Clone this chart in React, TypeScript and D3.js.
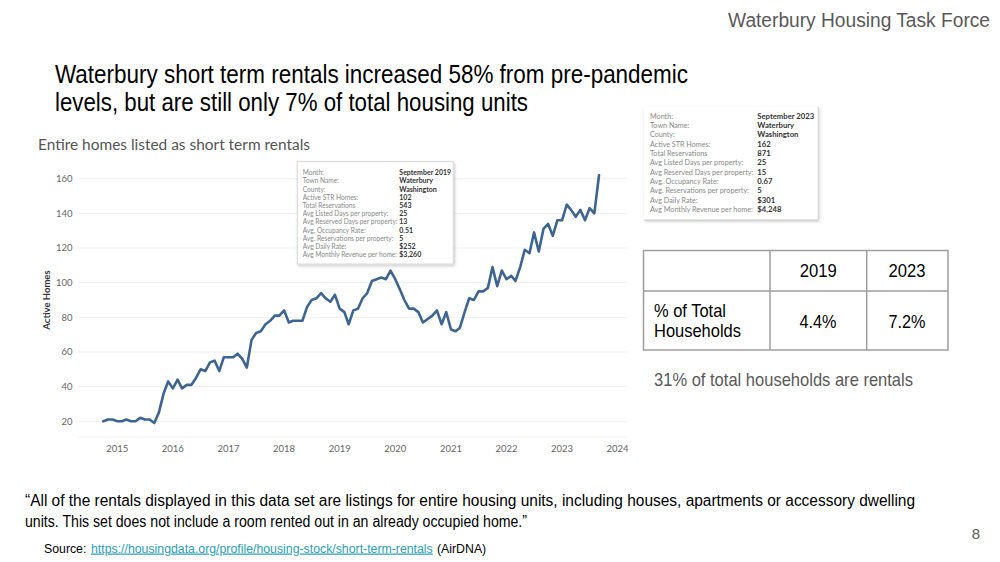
import React from "react";
import * as d3 from "d3";

// ---- data ----
const firstMonth = "2014-10-01";
const activeHomes = [
  20, 21, 21,
  20, 20, 21, 20, 20, 22, 21, 21, 19, 25, 36, 43,
  39, 44, 39, 41, 41, 45, 50, 49, 54, 55, 49, 57,
  57, 57, 59, 56, 51, 67, 71, 72, 76, 78, 81, 81,
  84, 77, 78, 78, 78, 86, 90, 91, 94, 91, 89, 93,
  85, 83, 76, 84, 85, 91, 94, 101, 102, 103, 102, 107,
  102, 96, 90, 85, 85, 83, 77, 79, 81, 84, 76, 83,
  73, 72, 74, 83, 91, 90, 95, 95, 97, 109, 98, 107,
  102, 104, 101, 109, 119, 117, 129, 118, 131, 134, 127, 136,
  136, 145, 142, 138, 142, 136, 143, 140, 162,
];
const yTicks = [20, 40, 60, 80, 100, 120, 140, 160];
const xYears = [2015, 2016, 2017, 2018, 2019, 2020, 2021, 2022, 2023, 2024];

const tooltipLabels = [
  "Month:",
  "Town Name:",
  "County:",
  "Active STR Homes:",
  "Total Reservations",
  "Avg Listed Days per property:",
  "Avg Reserved Days per property:",
  "Avg. Occupancy Rate:",
  "Avg. Reservations per property:",
  "Avg Daily Rate:",
  "Avg Monthly Revenue per home:",
];
const tooltip2019 = ["September 2019", "Waterbury", "Washington", "102", "543", "25", "13", "0.51", "5", "$252", "$3,260"];
const tooltip2023 = ["September 2023", "Waterbury", "Washington", "162", "871", "25", "15", "0.67", "5", "$301", "$4,248"];

const tableYears = ["2019", "2023"];
const tableShares = ["4.4%", "7.2%"];
const tableRowLabel = ["% of Total", "Households"];

const titleLines = [
  "Waterbury short term rentals increased 58% from pre-pandemic",
  "levels, but are still only 7% of total housing units",
];
const quoteLines = [
  "\u201CAll of the rentals displayed in this data set are listings for entire housing units, including houses, apartments or accessory dwelling",
  "units. This set does not include a room rented out in an already occupied home.\u201D",
];
const sourceParts = ["Source:", "https://housingdata.org/profile/housing-stock/short-term-rentals", "(AirDNA)"];

const SLIDE_FONT = "'Liberation Sans', Arial, sans-serif";
const TAB_FONT = "Lato, 'Noto Sans', sans-serif";

export default function App() {
  const start = new Date(firstMonth + "T00:00:00");
  const points = activeHomes.map((v, i) => ({ date: d3.timeMonth.offset(start, i), v }));

  const x = d3
    .scaleTime()
    .domain([new Date(2015, 0, 1), new Date(2024, 0, 1)])
    .range([117.3, 617.6]);
  const y = d3.scaleLinear().domain([20, 160]).range([421.3, 178.7]);

  const line = d3
    .line<{ date: Date; v: number }>()
    .x((d) => x(d.date))
    .y((d) => y(d.v))
    .curve(d3.curveLinear);

  const tipRow1 = (i: number) => 172.7 + i * 8.2;
  const tipRow2 = (i: number) => 116 + i * 9.33;

  return (
    <svg
      width={1000}
      height={562}
      viewBox="0 0 1000 562"
      style={{ position: "absolute", left: 0, top: 0, background: "#fff" }}
    >
      <defs>
        <filter id="shadow" x="-10%" y="-10%" width="130%" height="130%">
          <feDropShadow dx="1" dy="1.5" stdDeviation="1.5" floodColor="#000" floodOpacity="0.22" />
        </filter>
      </defs>
      <rect x={0} y={0} width={1000} height={562} fill="#fff" />

      {/* header */}
      <text x={990} y={26.5} textAnchor="end" fontFamily={SLIDE_FONT} fontSize={20} fill="#595959" textLength={262} lengthAdjust="spacingAndGlyphs">
        Waterbury Housing Task Force
      </text>

      {/* title */}
      <text x={55} y={83} fontFamily={SLIDE_FONT} fontSize={25} fill="#000" textLength={633} lengthAdjust="spacingAndGlyphs">
        {titleLines[0]}
      </text>
      <text x={55} y={111} fontFamily={SLIDE_FONT} fontSize={25} fill="#000" textLength={473} lengthAdjust="spacingAndGlyphs">
        {titleLines[1]}
      </text>

      {/* chart subtitle */}
      <text x={38} y={150} fontFamily={TAB_FONT} fontSize={14.5} fill="#555" textLength={272} lengthAdjust="spacingAndGlyphs">
        Entire homes listed as short term rentals
      </text>

      {/* gridlines */}
      {yTicks.map((t) => (
        <line key={"g" + t} x1={78} x2={627} y1={y(t)} y2={y(t)} stroke="#efefef" strokeWidth={1} />
      ))}
      <line x1={78} x2={627} y1={437} y2={437} stroke="#f3f3f3" strokeWidth={1} />

      {/* y ticks */}
      {yTicks.map((t) => (
        <text key={"yt" + t} x={72.5} y={y(t) + 3.3} textAnchor="end" fontFamily={TAB_FONT} fontSize={9.5} fill="#666">
          {t}
        </text>
      ))}
      <text
        transform={`translate(50,300) rotate(-90)`}
        textAnchor="middle"
        fontFamily={TAB_FONT}
        fontSize={9.5}
        fontWeight={700}
        fill="#333"
      >
        Active Homes
      </text>

      {/* x ticks */}
      {xYears.map((yr) => (
        <text key={"xt" + yr} x={x(new Date(yr, 0, 1))} y={451.5} textAnchor="middle" fontFamily={TAB_FONT} fontSize={9.5} fill="#666">
          {yr}
        </text>
      ))}

      {/* line */}
      <path d={line(points) || ""} fill="none" stroke="#3e6592" strokeWidth={2.6} strokeLinejoin="round" strokeLinecap="round" />

      {/* tooltip 2019 */}
      <g>
        <rect x={297.3} y={161.7} width={156} height={102.3} fill="#fff" stroke="#d9d9d9" strokeWidth={1} filter="url(#shadow)" />
        {tooltipLabels.map((l, i) => (
          <text key={"l1" + i} x={302.7} y={tipRow1(i) + 2.4} fontFamily={TAB_FONT} fontSize={6.6} fill="#888">
            {l}
          </text>
        ))}
        {tooltip2019.map((v, i) => (
          <text key={"v1" + i} x={399.3} y={tipRow1(i) + 2.4} fontFamily={TAB_FONT} fontSize={7} fontWeight={700} fill="#333">
            {v}
          </text>
        ))}
      </g>

      {/* tooltip 2023 */}
      <g>
        <rect x={644} y={107} width={174.3} height={113} fill="#fff" filter="url(#shadow)" />
        <line x1={818.3} x2={818.3} y1={107} y2={220} stroke="#d0d0d0" strokeWidth={1} />
        <line x1={644} x2={818.3} y1={220} y2={220} stroke="#d0d0d0" strokeWidth={1} />
        {tooltipLabels.map((l, i) => (
          <text key={"l2" + i} x={650} y={tipRow2(i) + 2.6} fontFamily={TAB_FONT} fontSize={7.2} fill="#888">
            {l}
          </text>
        ))}
        {tooltip2023.map((v, i) => (
          <text key={"v2" + i} x={757.3} y={tipRow2(i) + 2.6} fontFamily={TAB_FONT} fontSize={7.7} fontWeight={700} fill="#333">
            {v}
          </text>
        ))}
      </g>

      {/* table */}
      <g fontFamily={SLIDE_FONT} fill="#000">
        <rect x={643.5} y={250.5} width={304.5} height={99.5} fill="#fff" stroke="#9e9e9e" strokeWidth={1.5} />
        <line x1={643.5} x2={948} y1={291} y2={291} stroke="#9e9e9e" strokeWidth={1.5} />
        <line x1={770} x2={770} y1={250.5} y2={350} stroke="#9e9e9e" strokeWidth={1.5} />
        <line x1={866.7} x2={866.7} y1={250.5} y2={350} stroke="#9e9e9e" strokeWidth={1.5} />
        {tableYears.map((t, i) => (
          <text key={"ty" + t} x={[818.3, 907][i]} y={276.8} textAnchor="middle" fontSize={18.5} textLength={37} lengthAdjust="spacingAndGlyphs">
            {t}
          </text>
        ))}
        {tableShares.map((t, i) => (
          <text key={"ts" + t} x={[818, 907][i]} y={327.5} textAnchor="middle" fontSize={18.5} textLength={37} lengthAdjust="spacingAndGlyphs">
            {t}
          </text>
        ))}
        <text x={654} y={317.3} fontSize={18.5} textLength={72} lengthAdjust="spacingAndGlyphs">
          {tableRowLabel[0]}
        </text>
        <text x={654} y={337} fontSize={18.5} textLength={87} lengthAdjust="spacingAndGlyphs">
          {tableRowLabel[1]}
        </text>
      </g>

      <text x={654} y={386} fontFamily={SLIDE_FONT} fontSize={18.5} fill="#595959" textLength={259} lengthAdjust="spacingAndGlyphs">
        31% of total households are rentals
      </text>

      {/* quote */}
      <text x={25} y={505.5} fontFamily={SLIDE_FONT} fontSize={16} fill="#000" textLength={890} lengthAdjust="spacingAndGlyphs">
        {quoteLines[0]}
      </text>
      <text x={25} y={526.5} fontFamily={SLIDE_FONT} fontSize={16} fill="#000" textLength={502} lengthAdjust="spacingAndGlyphs">
        {quoteLines[1]}
      </text>

      <text x={976} y={538.5} textAnchor="middle" fontFamily={SLIDE_FONT} fontSize={15} fill="#595959">
        8
      </text>

      {/* source */}
      <text x={44} y={552.5} fontFamily={SLIDE_FONT} fontSize={12.3} fill="#000">
        {sourceParts[0]}
      </text>
      <text x={91} y={552.5} fontFamily={SLIDE_FONT} fontSize={12.3} fill="#2b9fb4" textDecoration="underline">
        {sourceParts[1]}
      </text>
      <text x={437} y={552.5} fontFamily={SLIDE_FONT} fontSize={12.3} fill="#000">
        {sourceParts[2]}
      </text>
    </svg>
  );
}
